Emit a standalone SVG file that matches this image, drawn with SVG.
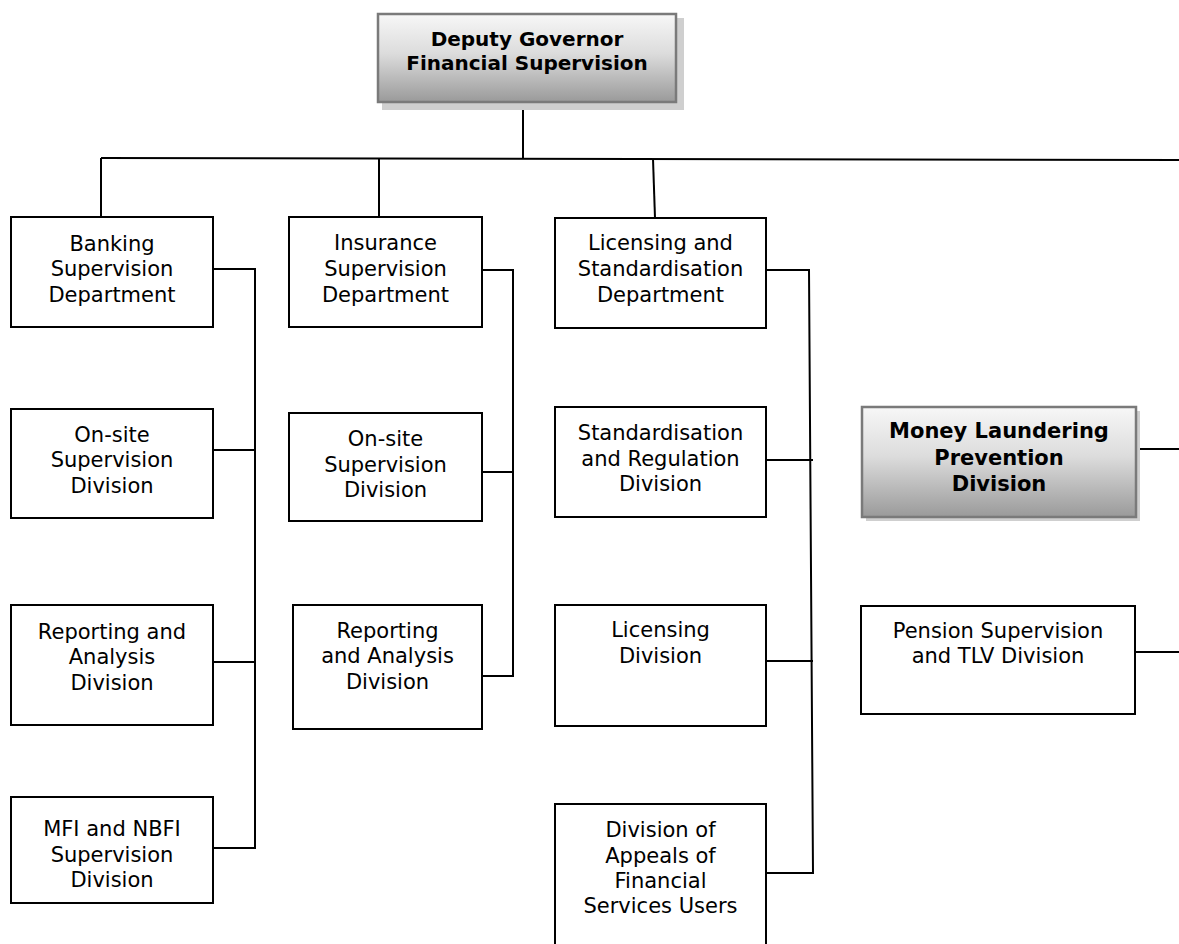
<svg xmlns="http://www.w3.org/2000/svg" width="1179" height="944" viewBox="0 0 1179 944">
<defs>
<linearGradient id="g" x1="0" y1="0" x2="0" y2="1">
<stop offset="0" stop-color="#f7f7f7"/>
<stop offset="0.45" stop-color="#dcdcdc"/>
<stop offset="1" stop-color="#9a9a9a"/>
</linearGradient>
<style>
.b{fill:#fff;stroke:#000;stroke-width:2}
.h{fill:url(#g);stroke:#7a7a7a;stroke-width:2.5}
.s{fill:#cfcfcf}
.t{font-family:"DejaVu Sans",Verdana,sans-serif;font-size:21px;fill:#000;text-anchor:middle}
.tb{font-family:"DejaVu Sans",Verdana,sans-serif;font-size:21px;font-weight:bold;fill:#000;text-anchor:middle}
.tb20{font-size:20px}
.c{fill:none;stroke:#000;stroke-width:2}
</style>
</defs>
<rect width="1179" height="944" fill="#fff"/>
<g id="connectors">
<path class="c" d="M523,102 V158"/>
<path class="c" d="M101,158 L1179,160"/>
<path class="c" d="M101,158 V217"/>
<path class="c" d="M379,158 V217"/>
<path class="c" d="M653,159 L655,218"/>
<path class="c" d="M213,269 H255 V848 H213"/>
<path class="c" d="M213,450 H255"/>
<path class="c" d="M213,662 H255"/>
<path class="c" d="M482,270 H513 V676 H482"/>
<path class="c" d="M482,472 H513"/>
<path class="c" d="M766,270 H809 L813,873 H766"/>
<path class="c" d="M766,460 H813"/>
<path class="c" d="M766,661 H813"/>
<path class="c" d="M1136,449 H1179"/>
<path class="c" d="M1135,652 H1179"/>
</g>
<g id="n-deputy">
<rect class="s" x="382" y="18" width="302" height="92"/>
<rect class="h" x="378" y="14" width="298" height="88"/>
<text class="tb tb20" x="527" y="46">Deputy Governor</text>
<text class="tb tb20" x="527" y="70">Financial Supervision</text>
</g>
<g id="n-banking">
<rect class="b" x="11" y="217" width="202" height="110"/>
<text class="t" x="112" y="251">Banking</text>
<text class="t" x="112" y="276">Supervision</text>
<text class="t" x="112" y="302">Department</text>
</g>
<g id="n-onsite1">
<rect class="b" x="11" y="409" width="202" height="109"/>
<text class="t" x="112" y="442">On-site</text>
<text class="t" x="112" y="467">Supervision</text>
<text class="t" x="112" y="493">Division</text>
</g>
<g id="n-reporting1">
<rect class="b" x="11" y="605" width="202" height="120"/>
<text class="t" x="112" y="639">Reporting and</text>
<text class="t" x="112" y="664">Analysis</text>
<text class="t" x="112" y="690">Division</text>
</g>
<g id="n-mfi">
<rect class="b" x="11" y="797" width="202" height="106"/>
<text class="t" x="112" y="836">MFI and NBFI</text>
<text class="t" x="112" y="862">Supervision</text>
<text class="t" x="112" y="887">Division</text>
</g>
<g id="n-insurance">
<rect class="b" x="289" y="217" width="193" height="110"/>
<text class="t" x="385.5" y="250">Insurance</text>
<text class="t" x="385.5" y="276">Supervision</text>
<text class="t" x="385.5" y="302">Department</text>
</g>
<g id="n-onsite2">
<rect class="b" x="289" y="413" width="193" height="108"/>
<text class="t" x="385.5" y="446">On-site</text>
<text class="t" x="385.5" y="472">Supervision</text>
<text class="t" x="385.5" y="497">Division</text>
</g>
<g id="n-reporting2">
<rect class="b" x="293" y="605" width="189" height="124"/>
<text class="t" x="387.5" y="638">Reporting</text>
<text class="t" x="387.5" y="663">and Analysis</text>
<text class="t" x="387.5" y="689">Division</text>
</g>
<g id="n-licensing-dept">
<rect class="b" x="555" y="218" width="211" height="110"/>
<text class="t" x="660.5" y="250">Licensing and</text>
<text class="t" x="660.5" y="276">Standardisation</text>
<text class="t" x="660.5" y="302">Department</text>
</g>
<g id="n-standard">
<rect class="b" x="555" y="407" width="211" height="110"/>
<text class="t" x="660.5" y="440">Standardisation</text>
<text class="t" x="660.5" y="466">and Regulation</text>
<text class="t" x="660.5" y="491">Division</text>
</g>
<g id="n-licensing-div">
<rect class="b" x="555" y="605" width="211" height="121"/>
<text class="t" x="660.5" y="637">Licensing</text>
<text class="t" x="660.5" y="663">Division</text>
</g>
<g id="n-appeals">
<rect class="b" x="555" y="804" width="211" height="150"/>
<text class="t" x="660.5" y="837">Division of</text>
<text class="t" x="660.5" y="863">Appeals of</text>
<text class="t" x="660.5" y="888">Financial</text>
<text class="t" x="660.5" y="913">Services Users</text>
</g>
<g id="n-ml">
<rect class="s" x="866" y="411" width="274" height="110"/>
<rect class="h" x="862" y="407" width="274" height="110"/>
<text class="tb" x="999" y="438">Money Laundering</text>
<text class="tb" x="999" y="465">Prevention</text>
<text class="tb" x="999" y="491">Division</text>
</g>
<g id="n-pension">
<rect class="b" x="861" y="606" width="274" height="108"/>
<text class="t" x="998" y="638">Pension Supervision</text>
<text class="t" x="998" y="663">and TLV Division</text>
</g>
</svg>
